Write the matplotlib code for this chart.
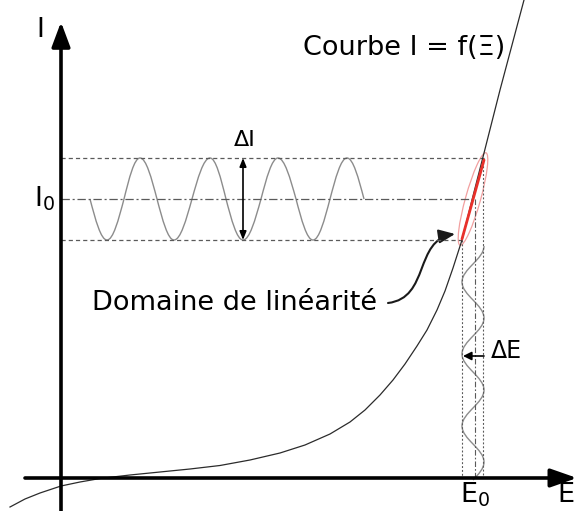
import matplotlib
matplotlib.use("Agg")
import matplotlib.pyplot as plt
from matplotlib.path import Path
from matplotlib.patches import PathPatch, Ellipse, FancyArrowPatch

# all coordinates (pixels, y downwards)
W, H = 577, 511

# characteristic curve I = f(E)
curve_x = [10, 25, 40, 61, 80, 100, 130, 160, 190, 220, 250, 280, 305, 330, 350,
           365, 380, 393, 405, 417, 427, 437, 445, 453, 462, 472, 483, 500, 512, 520, 524]
curve_y = [507, 499, 493, 486, 482, 478.5, 475, 472, 469, 465.5, 460, 453, 445, 434, 422,
           410, 395, 380, 364, 346, 330, 310, 291, 268, 240, 200, 157, 90, 45, 15, 0]

# operating point and swing
I0_y, I_top, I_bot = 199, 158, 240
E0_x, E_left, E_right = 473, 462, 484

# horizontal current wave: crossings / extrema along x
iwave_x = [90, 107, 124, 140, 157, 174, 192, 210, 226, 243, 261, 278, 296, 313, 330, 347, 364]
iwave_y = [199, 240, 199, 158, 199, 240, 199, 158, 199, 240, 199, 158, 199, 240, 199, 158, 199]

# vertical voltage wave: extrema / crossings along y
ewave_y = [246, 264, 282, 300, 318, 336, 354, 372, 390, 408, 426, 444, 462, 480]
ewave_x = [484, 473, 462, 473, 484, 473, 462, 473, 484, 473, 462, 473, 484, 473]


def quarter(u0, v0, u1, v1, from_cross):
    # cubic bezier for a quarter of a sine period
    if from_cross:
        cu, cv, eu, ev = u0, v0, u1, v1
    else:
        cu, cv, eu, ev = u1, v1, u0, v0
    du, dv = eu - cu, ev - cv
    p1 = (cu + 0.326 * du, cv + 0.5123 * dv)
    p2 = (cu + 0.638 * du, ev)
    if from_cross:
        return [p1, p2, (eu, ev)]
    return [p2, p1, (cu, cv)]


def wave_path(u, v, first_is_cross, vertical=False):
    pts = [(u[0], v[0])]
    codes = [Path.MOVETO]
    cross = first_is_cross
    for i in range(len(u) - 1):
        pts += quarter(u[i], v[i], u[i + 1], v[i + 1], cross)
        codes += [Path.CURVE4] * 3
        cross = not cross
    if vertical:
        pts = [(b, a) for a, b in pts]
    return Path(pts, codes)


plt.rcParams['lines.scale_dashes'] = False
plt.rcParams['mathtext.default'] = 'regular'
fig = plt.figure(figsize=(W / 100, H / 100), dpi=100)
ax = fig.add_axes([0, 0, 1, 1])
ax.set_xlim(0, W)
ax.set_ylim(H, 0)
ax.axis('off')

grey = '#5a5a5a'
# guide lines
ax.plot([61, 485], [I_top, I_top], color=grey, lw=0.9, dashes=[3, 2.2])
ax.plot([61, E_left], [I_bot, I_bot], color=grey, lw=0.9, dashes=[3, 2.2])
ax.plot([61, E0_x + 2], [I0_y, I0_y], color=grey, lw=0.9, dashes=[6, 2, 1.5, 2])
ax.plot([E_left, E_left], [I_bot, 478], color=grey, lw=0.8, dashes=[1.4, 1.4])
ax.plot([E_right - 1, E_right - 1], [I_top, 478], color=grey, lw=0.8, dashes=[1.4, 1.4])
ax.plot([E0_x + 2, E0_x + 2], [I0_y, 478], color=grey, lw=0.8, dashes=[4, 1.5, 1.2, 1.5])

# waves
ax.add_patch(PathPatch(wave_path(iwave_x, iwave_y, True), fill=False,
                       edgecolor='#8c8c8c', lw=1.0))
ax.add_patch(PathPatch(wave_path(ewave_y, ewave_x, False, vertical=True), fill=False,
                       edgecolor='#8c8c8c', lw=1.0))

# characteristic
ax.plot(curve_x, curve_y, color='#2b2b2b', lw=0.9)

# linear domain
ax.plot([E_left, E_right], [I_bot - 1, I_top + 2], color='#e8302a', lw=2.0,
        solid_capstyle='round')
ax.add_patch(Ellipse((473, 199), 96, 15, angle=-74.4, fill=False,
                     edgecolor='#f2a0a0', lw=0.9))

# axes
ax.annotate('', xy=(61, 22), xytext=(61, H),
            arrowprops=dict(arrowstyle='-|>,head_length=0.75,head_width=0.28',
                            mutation_scale=20, lw=2.6, color='black',
                            shrinkA=0, shrinkB=0))
ax.annotate('', xy=(577, 478), xytext=(25, 478),
            arrowprops=dict(arrowstyle='-|>,head_length=0.8,head_width=0.28',
                            mutation_scale=20, lw=2.6, color='black',
                            shrinkA=0, shrinkB=0))

# delta arrows
ax.annotate('', xy=(243, I_top), xytext=(243, I_bot),
            arrowprops=dict(arrowstyle='<|-|>,head_length=0.5,head_width=0.2',
                            mutation_scale=10, lw=1.2, color='black',
                            shrinkA=0, shrinkB=0))
ax.annotate('', xy=(463, 356), xytext=(484, 356),
            arrowprops=dict(arrowstyle='-|>,head_length=0.5,head_width=0.25',
                            mutation_scale=10, lw=1.2, color='black',
                            shrinkA=0, shrinkB=0))

# curly pointer to the linear domain
curl = Path([(388, 303), (430, 298), (414, 240), (455, 234)],
            [Path.MOVETO, Path.CURVE4, Path.CURVE4, Path.CURVE4])
ax.add_patch(FancyArrowPatch(path=curl, arrowstyle='-|>,head_length=0.7,head_width=0.3',
                             mutation_scale=14, lw=1.5, color='#1a1a1a'))

# texts
fs = 19.5
ax.text(40, 30, 'I', fontsize=fs, ha='center', va='center')
ax.text(45, 199, 'I$_0$', fontsize=fs, ha='center', va='center')
ax.text(475, 495, 'E$_0$', fontsize=fs, ha='center', va='center')
ax.text(557, 495, 'E', fontsize=fs, ha='left', va='center')
ax.text(303, 48, 'Courbe I = f(Ξ)', fontsize=fs, ha='left', va='center')
ax.text(92, 303, 'Domaine de linéarité', fontsize=fs, ha='left', va='center')
ax.text(245, 140, 'ΔI', fontsize=16, ha='center', va='center')
ax.text(491, 351, 'ΔE', fontsize=17, ha='left', va='center')

fig.savefig('out.png', dpi=100)
